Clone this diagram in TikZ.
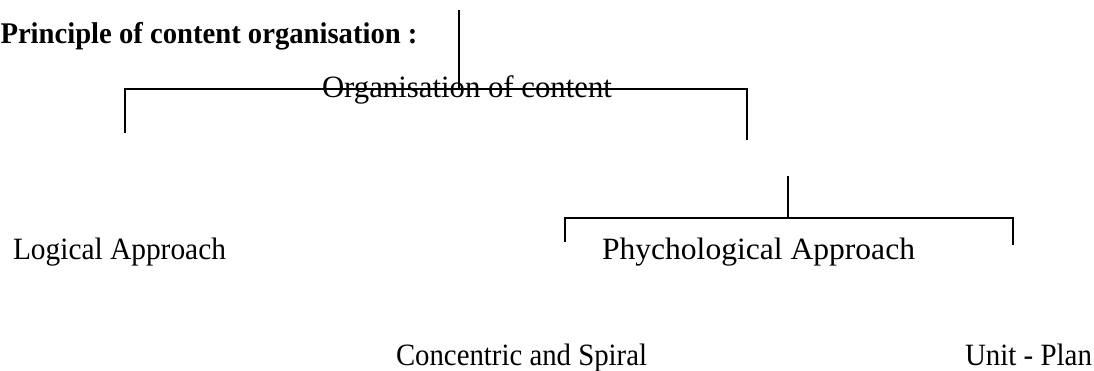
\documentclass[tikz,border=0pt]{standalone}
\usepackage{fontspec}
\usepackage{graphicx}
\setmainfont{Liberation Serif}
\newcommand\fitw[2]{\resizebox{#1}{\height}{#2}}
\begin{document}
\begin{tikzpicture}[x=1pt,y=-1pt,
  lbl/.style={inner sep=0pt, outer sep=0pt, font=\fontsize{31}{36}\selectfont},
  conn/.style={line width=2pt, line cap=butt, line join=miter}]
\useasboundingbox (0,0) rectangle (1094,371);
% texts
\node[lbl, font=\fontsize{30}{36}\selectfont\bfseries, anchor=base west] (title) at (0.5,44) {\fitw{417pt}{Principle of content organisation :}};
\node[lbl, anchor=base west] (org) at (322,98) {\fitw{290pt}{Organisation of content}};
\node[lbl, anchor=base west] (log) at (13,260) {\fitw{213pt}{Logical Approach}};
\node[lbl, anchor=base west] (psy) at (602,260) {\fitw{313pt}{Phychological Approach}};
\node[lbl, anchor=base west] (con) at (396,365) {\fitw{251pt}{Concentric and Spiral}};
\node[lbl, anchor=base west] (unit) at (965,365) {\fitw{127pt}{Unit - Plan}};
% connector points
\coordinate (t0) at (459,10);
\coordinate (t1) at (459,89);
\coordinate (hl) at (125,89);
\coordinate (hr) at (747,89);
\coordinate (dl) at (125,133);
\coordinate (dr) at (747,140);
\coordinate (p0) at (788,176);
\coordinate (p1) at (788,218);
\coordinate (pl) at (565,218);
\coordinate (pr) at (1013,218);
\coordinate (pdl) at (565,242);
\coordinate (pdr) at (1013,245);
\draw[conn] (t0) -- (t1);
\draw[conn] (dl) -- (hl) -- (hr) -- (dr);
\draw[conn] (p0) -- (p1);
\draw[conn] (pdl) -- (pl) -- (pr) -- (pdr);
\end{tikzpicture}
\end{document}
